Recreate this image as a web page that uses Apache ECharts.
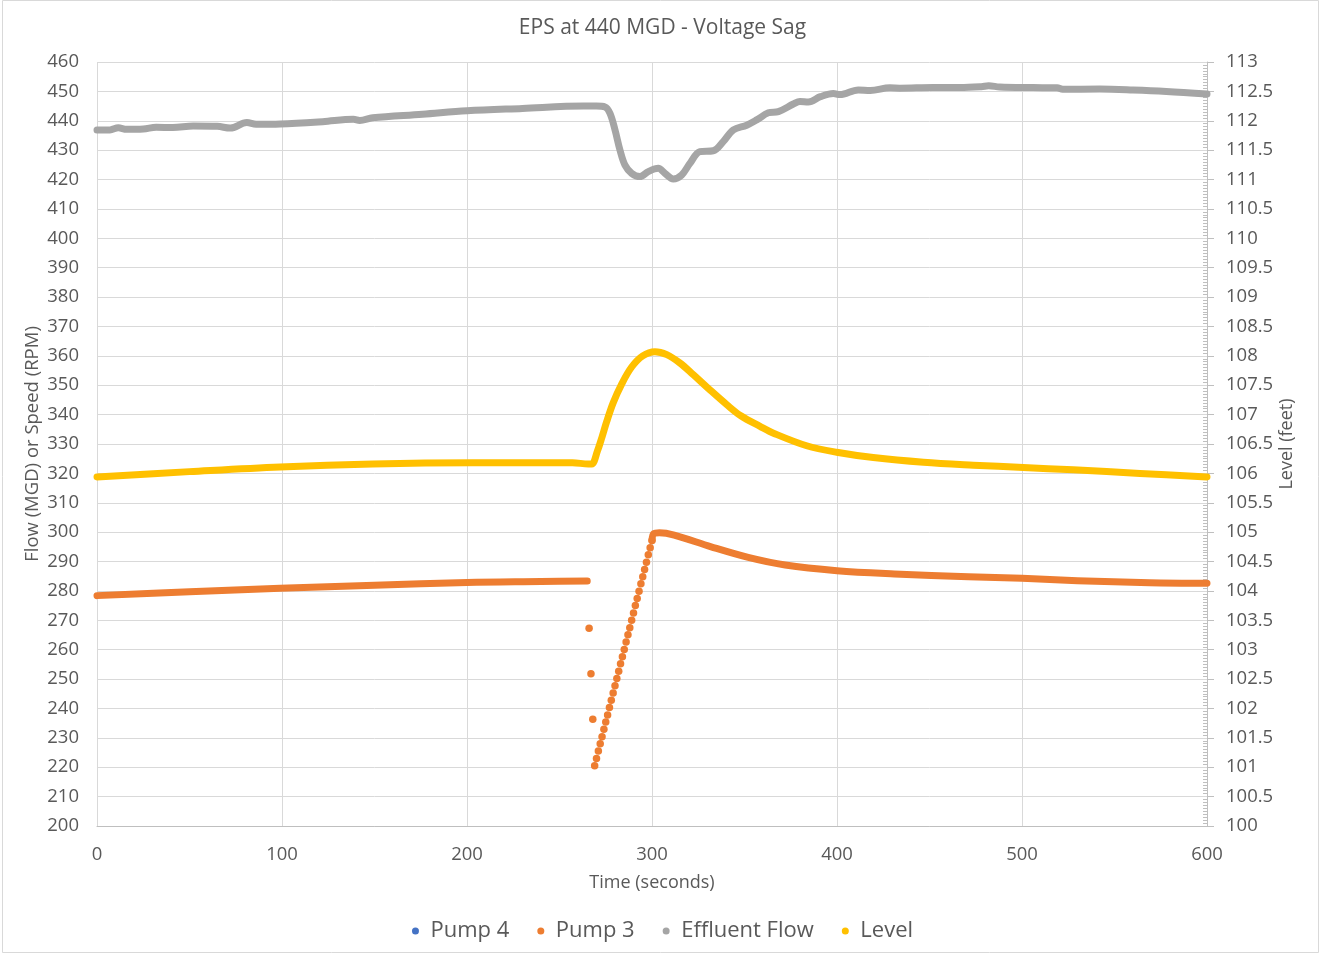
<!DOCTYPE html>
<html>
<head>
<meta charset="utf-8">
<script src="https://cdn.jsdelivr.net/npm/echarts@6/dist/echarts.min.js"></script>
<style>
html,body{margin:0;padding:0;background:#fff;}
#chart{width:1325px;height:955px;}
</style>
</head>
<body>
<div id="chart"></div>
<script>
// ---- Data ----
var seriesNames = ['Pump 4', 'Pump 3', 'Effluent Flow', 'Level'];

// Effluent Flow (MGD), left axis
var flowT = [0, 7, 11.5, 16, 25, 32, 41, 52, 65, 72, 81, 86, 99, 122, 138.6, 142, 149, 176, 200, 230, 263, 270,
  274.6, 277.3, 280, 282.7, 285.4, 289, 293.5, 298, 303.4, 307, 311.5, 316, 320.5, 325.9, 333.1, 338.5, 344,
  351.2, 356.6, 362.9, 368.3, 376.4, 380, 384.5, 391, 398, 401.6, 411.5, 418, 428.6, 434, 452, 466.5, 478, 482,
  488, 506, 519, 522, 542, 560, 578, 600];
var flowV = [436.9, 436.9, 437.6, 437.1, 437.2, 437.8, 437.7, 438.2, 438.1, 437.5, 439.4, 438.8, 438.9, 439.7, 440.5, 440.1, 441.0, 442.2, 443.4, 444.2, 445.0, 445.0,
  444.7, 442.5, 436.9, 430.0, 424.9, 422.1, 421.0, 422.7, 423.8, 422.1, 420.2, 421.5, 425.5, 429.5, 429.8, 432.9, 436.9,
  438.5, 440.3, 442.7, 443.1, 445.7, 446.6, 446.4, 448.2, 449.3, 448.9, 450.5, 450.3, 451.2, 451.1, 451.3, 451.3, 451.6, 451.9,
  451.5, 451.3, 451.2, 450.7, 450.8, 450.5, 450.0, 449.1];

// Level (feet), right axis
var levelT = [0, 50, 99, 149, 203, 257, 265.6, 267.5, 270.5, 273, 275.5, 279, 283.6, 289, 295, 301.6, 308, 315, 322.3,
  331, 340.4, 348, 358.4, 366, 383.6, 399.8, 419.6, 446.7, 473.7, 500.7, 527.7, 563.8, 600];
var levelV = [105.94, 106.03, 106.11, 106.16, 106.18, 106.18, 106.16, 106.16, 106.38, 106.62, 106.88, 107.20, 107.52, 107.81, 108.00, 108.07, 108.02, 107.88, 107.68,
  107.43, 107.17, 106.98, 106.80, 106.68, 106.47, 106.36, 106.27, 106.19, 106.14, 106.10, 106.06, 106.00, 105.94];

// Pump 3 speed (RPM), left axis: steady run before the sag
var pump3T1 = [0, 50, 99, 150, 200, 240, 265];
var pump3V1 = [278.4, 279.7, 280.9, 281.9, 282.9, 283.2, 283.4];
// Pump 3 individual samples during drop-out and ramp-up
var pump3DotT = [266, 267, 268, 269, 270, 271, 272, 273, 274, 275, 276, 277, 278, 279, 280, 281, 282, 283, 284, 285,
  286, 287, 288, 289, 290, 291, 292, 293, 294, 295, 296, 297, 298, 299, 300];
var pump3DotV = [267.3, 251.8, 236.3, 220.5, 223.0, 225.5, 228.0, 230.4, 232.9, 235.4, 237.8, 240.3, 242.8, 245.3, 247.7, 250.2, 252.7, 255.2, 257.6, 260.1,
  262.6, 265.1, 267.5, 270.0, 272.5, 275.0, 277.4, 279.9, 282.4, 284.8, 287.3, 289.8, 292.3, 294.7, 297.2];
// Pump 3 recovery after the sag
var pump3T2 = [300, 301, 304, 312, 332, 352, 372, 400, 431, 471, 500, 530, 569, 600];
var pump3V2 = [297.2, 299.5, 299.8, 299.0, 295.0, 291.4, 288.8, 286.9, 285.8, 284.8, 284.3, 283.5, 282.8, 282.6];

// Pump 4: no samples visible inside the plotted range
var pump4T = [];
var pump4V = [];

// Axis tick settings
var xTicks = {min: 0, max: 600, interval: 100};
var leftTicks = {min: 200, max: 460, interval: 10};
var rightTicks = {min: 100, max: 113, interval: 0.5};

function pairs(t, v) { return t.map(function (x, i) { return [x, v[i]]; }); }

var textColor = '#595959';
var gridColor = '#D9D9D9';
var axisColor = '#BFBFBF';
var font = 'Open Sans';
var LW = 7;

var chart = echarts.init(document.getElementById('chart'), null, {renderer: 'canvas'});
var option = {
  backgroundColor: '#ffffff',
  animation: false,
  textStyle: {fontFamily: font},
  title: {
    text: 'EPS at 440 MGD - Voltage Sag',
    left: 'center', top: 13,
    textStyle: {color: textColor, fontSize: 21, fontWeight: 'normal', fontFamily: font}
  },
  graphic: [{
    type: 'rect', silent: true,
    shape: {x: 2.5, y: 0.5, width: 1316, height: 952},
    style: {fill: 'none', stroke: gridColor, lineWidth: 1}
  }],
  legend: {
    data: seriesNames,
    bottom: 8, left: 'center',
    icon: 'circle', itemWidth: 20, itemHeight: 7, itemGap: 28,
    textStyle: {color: textColor, fontSize: 22, fontFamily: font}
  },
  grid: {left: 97, right: 118, top: 62, bottom: 129, containLabel: false},
  xAxis: {
    type: 'value', min: xTicks.min, max: xTicks.max, interval: xTicks.interval,
    name: 'Time (seconds)', nameLocation: 'middle', nameGap: 48,
    nameTextStyle: {color: textColor, fontSize: 18, fontFamily: font},
    axisLine: {show: true, lineStyle: {color: axisColor, width: 1}},
    axisTick: {show: false},
    axisLabel: {color: textColor, fontSize: 18.5, margin: 19, fontFamily: font},
    splitLine: {show: true, lineStyle: {color: gridColor, width: 1}}
  },
  yAxis: [{
    type: 'value', position: 'left',
    min: leftTicks.min, max: leftTicks.max, interval: leftTicks.interval,
    name: 'Flow (MGD) or Speed (RPM)', nameLocation: 'middle', nameGap: 55, nameRotate: 90,
    nameMoveOverlap: false,
    nameTextStyle: {color: textColor, fontSize: 18.5, fontFamily: font},
    axisLine: {show: false}, axisTick: {show: false},
    axisLabel: {color: textColor, fontSize: 18.5, margin: 18, fontFamily: font},
    splitLine: {show: true, lineStyle: {color: gridColor, width: 1}}
  }, {
    type: 'value', position: 'right',
    min: rightTicks.min, max: rightTicks.max, interval: rightTicks.interval,
    name: 'Level (feet)', nameLocation: 'middle', nameGap: 71, nameRotate: 90,
    nameMoveOverlap: false,
    nameTextStyle: {color: textColor, fontSize: 18, fontFamily: font},
    axisLine: {show: true, lineStyle: {color: axisColor, width: 1}},
    axisTick: {show: true, length: 7, lineStyle: {color: axisColor}},
    axisLabel: {color: textColor, fontSize: 18.5, margin: 19, fontFamily: font},
    splitLine: {show: false}
  }, {
    type: 'value', position: 'right',
    min: rightTicks.min, max: rightTicks.max, interval: rightTicks.interval,
    axisLine: {show: false},
    axisTick: {show: false, inside: true},
    minorTick: {show: true, splitNumber: 10, length: 4, lineStyle: {color: axisColor}},
    axisLabel: {show: false},
    splitLine: {show: false}
  }],
  series: [{
    name: 'Pump 4', type: 'line', data: pairs(pump4T, pump4V),
    showSymbol: false, itemStyle: {color: '#4472C4'}, lineStyle: {color: '#4472C4', width: LW}
  }, {
    name: 'Pump 3', type: 'line', data: pairs(pump3T1, pump3V1),
    showSymbol: false, smooth: 0.35,
    itemStyle: {color: '#ED7D31'}, lineStyle: {color: '#ED7D31', width: LW, cap: 'round', join: 'round'}
  }, {
    name: 'Pump 3', type: 'scatter', data: pairs(pump3DotT, pump3DotV),
    symbol: 'circle', symbolSize: 7.5, itemStyle: {color: '#ED7D31', opacity: 1}
  }, {
    name: 'Pump 3', type: 'line', data: pairs(pump3T2, pump3V2),
    showSymbol: false, smooth: 0.35,
    itemStyle: {color: '#ED7D31'}, lineStyle: {color: '#ED7D31', width: LW, cap: 'round', join: 'round'}
  }, {
    name: 'Effluent Flow', type: 'line', data: pairs(flowT, flowV),
    showSymbol: false, smooth: 0.35,
    itemStyle: {color: '#A5A5A5'}, lineStyle: {color: '#A5A5A5', width: LW, cap: 'round', join: 'round'}
  }, {
    name: 'Level', type: 'line', yAxisIndex: 1, data: pairs(levelT, levelV),
    showSymbol: false, smooth: 0.35,
    itemStyle: {color: '#FFC000'}, lineStyle: {color: '#FFC000', width: LW, cap: 'round', join: 'round'}
  }]
};
chart.setOption(option);
</script>
</body>
</html>
